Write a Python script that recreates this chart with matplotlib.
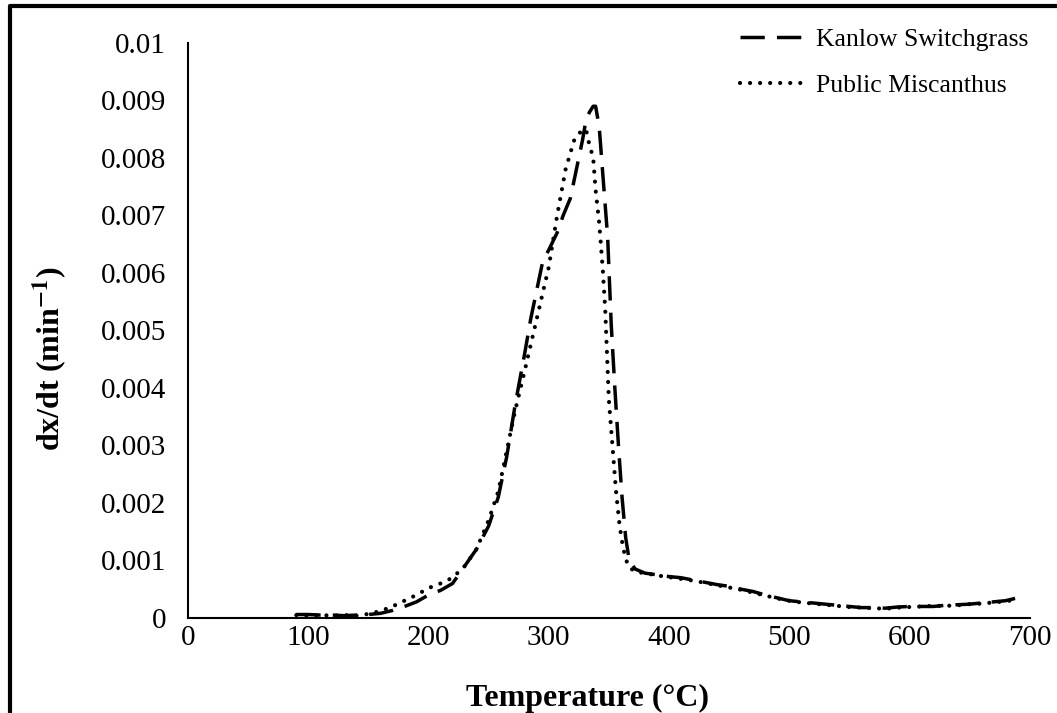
import matplotlib
matplotlib.use('Agg')
import matplotlib.pyplot as plt
from matplotlib.lines import Line2D

# Kanlow Switchgrass (dashed)
k_temp = [90, 100, 110, 120, 130, 140, 150, 160, 170, 180, 190, 200, 210, 220,
          230, 240, 250, 258, 265, 272, 280, 285, 290, 295, 300, 307, 312, 318,
          324, 328, 331, 334, 337, 339, 342, 346, 349, 352, 355, 358, 361, 364,
          367, 372, 380, 390, 400, 410, 420, 430, 440, 450, 460, 470, 480, 490,
          500, 510, 520, 530, 540, 550, 560, 570, 580, 590, 600, 610, 620, 630,
          640, 650, 660, 670, 680, 688]
k_rate = [0.00006, 0.00006, 0.00005, 0.00005, 0.00004, 0.00005, 0.00006, 0.00008,
          0.00013, 0.00020, 0.00028, 0.00040, 0.00048, 0.00060, 0.00090, 0.00120,
          0.00160, 0.00210, 0.00280, 0.00370, 0.00460, 0.00520, 0.00570, 0.00620,
          0.00640, 0.00670, 0.00700, 0.00730, 0.00790, 0.00830, 0.00866, 0.00880,
          0.00890, 0.00890, 0.00854, 0.00744, 0.00663, 0.00510, 0.00400, 0.00300,
          0.00210, 0.00140, 0.00100, 0.00085, 0.00078, 0.00075, 0.00072, 0.00070,
          0.00066, 0.00062, 0.00058, 0.00055, 0.00050, 0.00046, 0.00040, 0.00035,
          0.00030, 0.00028, 0.00026, 0.00024, 0.00022, 0.00020, 0.00018, 0.00018,
          0.00017, 0.00019, 0.00020, 0.00020, 0.00020, 0.00022, 0.00023, 0.00024,
          0.00026, 0.00028, 0.00030, 0.00034]

# Public Miscanthus (dotted)
m_temp = [90, 100, 110, 120, 130, 140, 150, 160, 170, 180, 190, 200, 210, 220,
          230, 240, 250, 258, 265, 272, 280, 290, 300, 307, 314, 321, 325, 331,
          333, 337, 339, 342, 345, 347, 350, 353, 356, 359, 362, 366, 372, 380,
          390, 400, 410, 420, 430, 440, 450, 460, 470, 480, 490, 500, 510, 520,
          530, 540, 550, 560, 570, 580, 590, 600, 610, 620, 630, 640, 650, 660,
          670, 680, 690]
m_rate = [0.00005, 0.00004, 0.00005, 0.00004, 0.00005, 0.00004, 0.00007, 0.00012,
          0.00020, 0.00030, 0.00040, 0.00052, 0.00060, 0.00070, 0.00090, 0.00120,
          0.00170, 0.00220, 0.00290, 0.00360, 0.00430, 0.00520, 0.00610, 0.00700,
          0.00780, 0.00830, 0.00843, 0.00850, 0.00830, 0.00800, 0.00744, 0.00687,
          0.00605, 0.00536, 0.00380, 0.00300, 0.00220, 0.00160, 0.00120, 0.00090,
          0.00080, 0.00078, 0.00074, 0.00071, 0.00068, 0.00065, 0.00061, 0.00057,
          0.00053, 0.00049, 0.00044, 0.00039, 0.00034, 0.00030, 0.00027, 0.00025,
          0.00023, 0.00021, 0.00019, 0.00018, 0.00017, 0.00016, 0.00018, 0.00019,
          0.00020, 0.00021, 0.00021, 0.00022, 0.00024, 0.00025, 0.00027, 0.00029,
          0.00032]

x_ticks = [0, 100, 200, 300, 400, 500, 600, 700]
y_ticks = [0, 0.001, 0.002, 0.003, 0.004, 0.005, 0.006, 0.007, 0.008, 0.009, 0.01]
y_labels = ['0', '0.001', '0.002', '0.003', '0.004', '0.005', '0.006', '0.007',
            '0.008', '0.009', '0.01']

plt.rcParams['font.family'] = ['Liberation Serif', 'DejaVu Serif']
plt.rcParams['mathtext.fontset'] = 'stix'

fig = plt.figure(figsize=(10.57, 7.13), dpi=100)
ax = fig.add_axes([0.178, 0.1333, 0.796, 0.8064])

ax.plot(k_temp, k_rate, color='black', lw=2.5, linestyle=(0, (7, 3.5)),
        label='Kanlow Switchgrass')
ax.plot(m_temp, m_rate, color='black', lw=3, linestyle=(0, (0.01, 2.4)),
        dash_capstyle='round', label='Public Miscanthus')

ax.set_xlim(0, 700)
ax.set_ylim(0, 0.01)
ax.set_xticks(x_ticks)
ax.set_xticklabels([str(t) for t in x_ticks])
ax.set_yticks(y_ticks)
ax.set_yticklabels(y_labels)
ax.tick_params(length=0, labelsize=21)
ax.tick_params(axis='y', pad=16)
ax.tick_params(axis='x', pad=5)

for side in ['top', 'right']:
    ax.spines[side].set_visible(False)
for side in ['left', 'bottom']:
    ax.spines[side].set_linewidth(1.5)

ax.set_xlabel('Temperature (°C)', fontsize=23, fontweight='bold')
ax.set_ylabel('dx/dt (min$^{\\mathbf{-1}}$)', fontsize=23, fontweight='bold')
ax.xaxis.set_label_coords(0.475, -0.115)
ax.yaxis.set_label_coords(-0.14, 0.45)

ax.legend(loc='upper left', bbox_to_anchor=(740 / 1057, 1 - 28 / 713),
          bbox_transform=fig.transFigure, borderaxespad=0, borderpad=0,
          frameon=False, fontsize=18.5, handlelength=2.7, handletextpad=0.27,
          labelspacing=0.88)

# outer frame (left and top edges visible)
fig.add_artist(Line2D([10 / 1057, 10 / 1057, 1.0], [0.0, 1 - 6 / 713, 1 - 6 / 713],
                      transform=fig.transFigure, color='black', lw=3))

fig.savefig('out.png', dpi=100)
plt.close(fig)
